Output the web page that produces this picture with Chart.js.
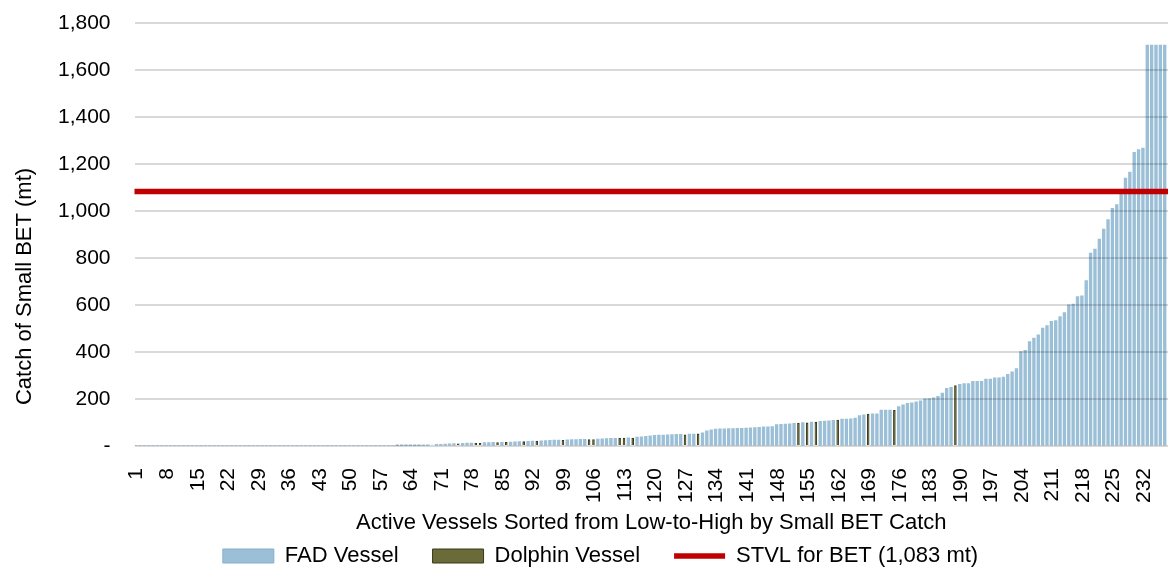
<!DOCTYPE html>
<html>
<head>
<meta charset="utf-8">
<title>Small BET catch by active vessel</title>
<script src="https://cdn.jsdelivr.net/npm/chart.js@4.4.1/dist/chart.umd.min.js"></script>
<style>
  html, body { margin: 0; padding: 0; background: #fff; }
  #wrap { width: 1168px; height: 572px; }
</style>
</head>
<body>
<div id="wrap"><canvas id="betChart" width="1168" height="572"></canvas></div>
<script>
// small BET catch (mt) per vessel, ranked low -> high
const catchMt = [
  0, 0, 0, 0, 0, 0, 0, 0, 0, 0,                          // 1-10
  0, 0, 0, 0, 0, 0, 0, 0, 0, 0,                          // 11-20
  0, 0, 0, 0, 0, 0, 0, 0, 0, 0,                          // 21-30
  0, 0, 0, 0, 0, 0, 0, 0, 0, 0,                          // 31-40
  0, 0, 0, 0, 0, 0, 0, 0, 0, 0,                          // 41-50
  0, 0, 0, 0, 0, 0, 0, 0, 0, 0,                          // 51-60
  1, 1, 1.5, 2, 2.5, 3, 3.5, 4, 5, 5.5,                  // 61-70
  6, 7, 8, 9, 10, 10, 11, 11, 12, 12,                    // 71-80
  13, 13, 14, 15, 15, 16, 16, 17, 18, 19,                // 81-90
  19, 20, 21, 21, 22, 23, 24, 24, 25, 25,                // 91-100
  26, 26, 27, 27, 28, 28, 28, 29, 30, 31,                // 101-110
  31, 34, 34, 34, 34, 37, 38, 40, 42, 44,                // 111-120
  45, 45, 46, 47, 48, 48, 48, 50, 50, 52,                // 121-130
  55, 63, 68, 71, 72, 72, 73, 73, 74, 74,                // 131-140
  75, 76, 77, 78, 80, 80, 81, 90, 91, 92,                // 141-150
  93, 95, 98, 98, 99, 101, 102, 104, 105, 106,           // 151-160
  108, 111, 113, 113, 115, 118, 128, 132, 136, 136,      // 161-170
  136, 152, 152, 152, 152, 167, 174, 180, 183, 187,      // 171-180
  191, 200, 201, 204, 210, 224, 244, 248, 258, 261,      // 181-190
  264, 264, 274, 274, 274, 284, 284, 289, 289, 292,      // 191-200
  304, 314, 328, 401, 406, 443, 458, 472, 501, 511,      // 201-210
  529, 533, 550, 567, 600, 603, 635, 638, 703, 820,      // 211-220
  837, 879, 922, 962, 1010, 1026, 1075, 1139, 1165, 1248, // 221-230
  1260, 1267, 1705, 1705, 1705, 1705, 1705               // 231-237
];

// ranks that belong to dolphin-set vessels (the rest are FAD vessels)
const dolphinRanks = [69, 75, 79, 80, 84, 86, 90, 93, 99, 105, 106, 112, 113, 115,
  127, 130, 153, 155, 157, 162, 169, 175, 189];

const stvlMt = 1083;
const yMax = 1800;
const yStep = 200;
const labelEvery = 7;

const vesselRanks = catchMt.map((_, i) => String(i + 1));
const isDolphin = i => dolphinRanks.includes(i + 1);
const fadData = catchMt.map((v, i) => (isDolphin(i) ? null : v));
const dolphinData = catchMt.map((v, i) => (isDolphin(i) ? v : null));

Chart.defaults.font.family = "'Liberation Sans', Arial, sans-serif";
Chart.defaults.font.size = 22;
Chart.defaults.color = '#000';

const tickFont = { size: 21 };
const textFont = { size: 22 };

const ctx = document.getElementById('betChart').getContext('2d');

new Chart(ctx, {
  type: 'bar',
  data: {
    labels: vesselRanks,
    datasets: [
      {
        label: 'FAD Vessel',
        data: fadData,
        backgroundColor: '#9bbfd7',
        borderColor: '#86afcd',
        borderWidth: 0,
        inflateAmount: 0.6,   // overlap neighbours so no light seams show
        barPercentage: 1,
        categoryPercentage: 1,
        pointStyle: 'rect',
        order: 2
      },
      {
        label: 'Dolphin Vessel',
        data: dolphinData,
        backgroundColor: '#6b6b3a',
        borderColor: '#3a3a1a',
        borderWidth: 1,
        borderSkipped: 'bottom',
        inflateAmount: 0.2,
        barPercentage: 1,
        categoryPercentage: 1,
        pointStyle: 'rect',
        order: 1
      },
      {
        type: 'line',
        label: 'STVL for BET (1,083 mt)',
        data: [{ x: 0, y: stvlMt }, { x: 1, y: stvlMt }],
        xAxisID: 'xLine',
        borderColor: '#c00000',
        borderWidth: 5.5,
        borderCapStyle: 'round',
        pointRadius: 0,
        pointStyle: 'line',
        pointBorderWidth: 5.5,
        pointBorderColor: '#c00000',
        order: 0
      }
    ]
  },
  options: {
    responsive: false,
    animation: false,
    devicePixelRatio: 1,
    events: [],
    layout: { padding: { top: 23, left: 33, right: 0, bottom: -5 } },
    plugins: {
      tooltip: { enabled: false },
      legend: {
        position: 'bottom',
        labels: {
          usePointStyle: true,
          pointStyleWidth: 51,
          boxHeight: 14,
          padding: 34,
          color: '#000',
          font: textFont,
          sort: (a, b) => a.datasetIndex - b.datasetIndex,
          // the FAD swatch keeps a thin darker outline even though the bars have none
          generateLabels: chart => {
            const items = Chart.defaults.plugins.legend.labels.generateLabels(chart);
            items.forEach(it => {
              if (it.datasetIndex === 0) {
                it.strokeStyle = '#86afcd';
                it.lineWidth = 1;
              }
            });
            return items;
          }
        }
      }
    },
    scales: {
      x: {
        stacked: true,
        grid: { display: false },
        border: { display: false },
        ticks: {
          autoSkip: false,
          minRotation: 90,
          maxRotation: 90,
          padding: 14,
          color: '#000',
          font: tickFont,
          callback: function (v, i) {
            return i % labelEvery === 0 ? this.getLabelForValue(v) : null;
          }
        },
        title: {
          display: true,
          text: 'Active Vessels Sorted from Low-to-High by Small BET Catch',
          color: '#000',
          font: textFont,
          padding: { top: 0, bottom: -25.2 }
        },
        afterFit: s => {
          s.height = 65;
          s.paddingLeft = 0;
          s.paddingRight = 0;
        }
      },
      xLine: { type: 'linear', display: false, offset: false, min: 0, max: 1 },
      y: {
        min: 0,
        max: yMax,
        ticks: {
          stepSize: yStep,
          padding: 24,
          color: '#000',
          font: tickFont,
          callback: v => (v === 0 ? '-' : v.toLocaleString('en-US'))
        },
        // gridlines sit above the bars so they show through them slightly darker
        grid: { color: 'rgba(0,0,0,0.15)', lineWidth: 2, drawTicks: false, z: 1 },
        border: { display: false },
        title: {
          display: true,
          // trailing spaces push the visible words below the axis midpoint
          text: 'Catch of Small BET (mt)' + ' '.repeat(17),
          color: '#000',
          font: textFont,
          padding: { top: -21.2, bottom: 0 }
        },
        afterFit: s => {
          s.width = 101.5;
          s.paddingTop = 0;
          s.paddingBottom = 0;
        }
      }
    }
  }
});
</script>
</body>
</html>
